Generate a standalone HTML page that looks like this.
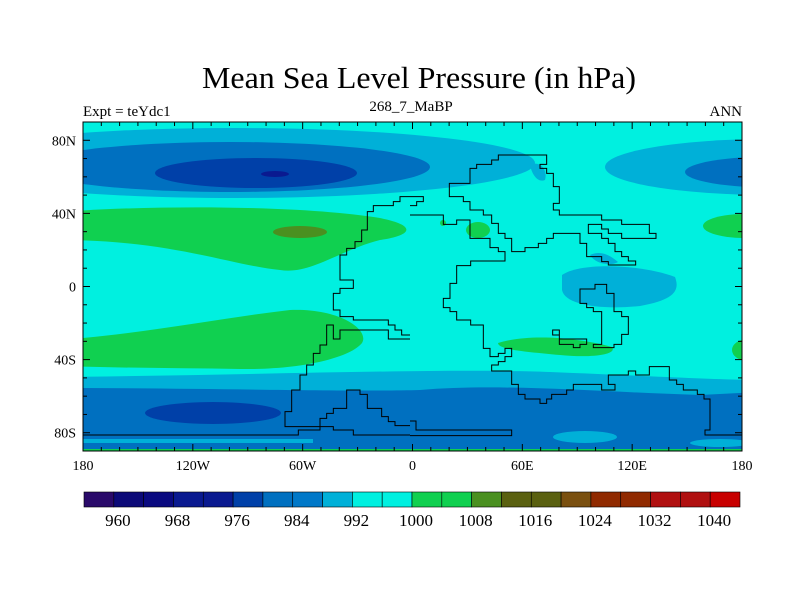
<!DOCTYPE html>
<html><head><meta charset="utf-8"><style>
body{margin:0;background:#fff}
svg{display:block;font-family:"Liberation Serif",serif}
</style></head><body>
<svg id="chart" width="800" height="600" viewBox="0 0 800 600">
<defs><clipPath id="plotclip"><rect x="83" y="122" width="659" height="329"/></clipPath></defs>
<text x="419" y="88" font-size="31" text-anchor="middle" textLength="434" lengthAdjust="spacingAndGlyphs">Mean Sea Level Pressure (in hPa)</text>
<text x="83" y="116" font-size="15">Expt = teYdc1</text>
<text x="411" y="111" font-size="15" text-anchor="middle">268_7_MaBP</text>
<text x="742" y="116" font-size="15" text-anchor="end">ANN</text>
<g clip-path="url(#plotclip)">
<rect x="83" y="122" width="659" height="329" fill="#00f0e0"/>
<ellipse cx="235" cy="163" rx="300" ry="35" fill="#00b0d8"/>
<ellipse cx="770" cy="167" rx="165" ry="28" fill="#00b0d8"/>
<ellipse cx="230" cy="167" rx="200" ry="25" fill="#0070c0"/>
<ellipse cx="780" cy="172" rx="95" ry="16" fill="#0070c0"/>
<ellipse cx="256" cy="173" rx="101" ry="15" fill="#0040a8"/>
<ellipse cx="275" cy="174" rx="14" ry="3" fill="#0a1a90"/>
<path d="M60,212 C150,205 300,205 380,218 C420,226 410,236 380,240 C340,250 310,275 280,270 C230,265 170,240 60,240 Z" fill="#10d050"/>
<ellipse cx="300" cy="232" rx="27" ry="6" fill="#4a9020"/>
<ellipse cx="745" cy="226" rx="42" ry="12" fill="#10d050"/>
<ellipse cx="443" cy="223" rx="3" ry="3" fill="#10d050"/>
<ellipse cx="478" cy="230" rx="12" ry="8" fill="#10d050"/>
<path d="M60,340 C150,333 220,318 290,310 C340,308 370,330 362,343 C350,358 300,370 240,369 C180,368 120,368 60,366 Z" fill="#10d050"/>
<path d="M498,343 C530,333 580,338 612,347 C618,355 590,358 560,355 C530,352 498,350 498,343 Z" fill="#10d050"/>
<ellipse cx="748" cy="350" rx="16" ry="11" fill="#10d050"/>
<path d="M562,275 C580,262 640,264 675,277 C680,290 675,300 640,306 C600,310 565,305 562,290 Z" fill="#00b0d8"/>
<path d="M590,255 C600,250 610,255 618,262 C612,266 596,265 590,255 Z" fill="#00b0d8"/>
<path d="M530,165 C540,160 548,170 545,180 C538,183 532,175 530,165 Z" fill="#00b0d8"/>
<path d="M60,377 C250,375 450,368 550,372 C650,376 720,380 760,380 L760,460 L60,460 Z" fill="#00b0d8"/>
<path d="M60,388 C200,388 350,392 420,390 C500,383 600,392 700,395 L760,392 L760,460 L60,460 Z" fill="#0070c0"/>
<ellipse cx="213" cy="413" rx="68" ry="11" fill="#0040a8"/>
<ellipse cx="585" cy="437" rx="32" ry="6" fill="#00b0d8"/>
<ellipse cx="720" cy="443" rx="30" ry="4" fill="#00b0d8"/>
<rect x="83" y="439" width="230" height="4" fill="#00b0d8"/>
<rect x="83" y="449" width="659" height="2" fill="#10d050"/>
</g>
<g clip-path="url(#plotclip)" fill="none" stroke="#000" stroke-width="1">
<g transform="translate(80,115) scale(0.33333)">
<path vector-effect="non-scaling-stroke" d="M990,245 L960,245 L960,260 L940,260 L940,272 L880,272 L880,290 L862,290 L862,345 L845,345 L845,380 L825,380 L825,400 L800,400 L800,420 L780,420 L780,495 L820,495 L820,520 L780,520 L780,535 L760,535 L760,585 L780,585 L780,605 L820,605 L820,615 L925,615 L925,630 L945,630 L945,645 L965,645 L965,660 L990,660"/>
<path vector-effect="non-scaling-stroke" d="M990,672 L925,672 L925,645 L780,645 L780,672 L760,672 L760,630 L740,630 L740,690 L720,690 L720,715 L700,715 L700,750 L680,750 L680,780 L660,780 L660,825 L635,825 L635,890 L615,890 L615,935 L720,935 L720,910 L740,910 L740,895 L760,895 L760,880 L800,880 L800,825 L840,825 L840,838 L862,838 L862,880 L905,880 L905,905 L925,905 L925,920 L945,920 L945,932 L990,932"/>
<path vector-effect="non-scaling-stroke" d="M10,960 L655,960 L655,945 L720,945 L720,935 L760,935 L760,945 L820,945 L820,960 L990,960"/>
</g>
<g transform="translate(410,115) scale(0.33333)">
<path vector-effect="non-scaling-stroke" d="M0,300 L100,300 L100,328 L140,328 L140,315 L180,315 L180,370 L240,370 L240,398 L265,398 L265,410 L285,410 L285,438 L182,438 L182,452 L140,452 L140,505 L120,505 L120,550 L100,550 L100,578 L120,578 L120,590 L140,590 L140,615 L182,615 L182,630 L220,630 L220,700 L240,700 L240,725 L265,725 L265,715 L285,715 L285,700 L305,700 L305,725 L285,725 L285,740 L265,740 L265,750 L245,750 L245,768 L305,768 L305,808 L325,808 L325,838 L345,838 L345,852 L390,852 L390,865 L410,865 L410,852 L425,852 L425,838 L470,838 L470,825 L490,825 L490,808 L575,808 L575,825 L615,825 L615,808 L595,808 L595,780 L655,780 L655,768 L677,768 L677,780 L718,780 L718,755 L778,755 L778,795 L800,795 L800,808 L820,808 L820,825 L862,825 L862,838 L882,838 L882,852 L900,852 L900,945 L885,945 L885,960 L995,960"/>
<path vector-effect="non-scaling-stroke" d="M118,245 L118,205 L180,205 L180,160 L200,160 L200,148 L245,148 L245,135 L265,135 L265,120 L410,120 L410,148 L390,148 L390,160 L410,160 L410,175 L430,175 L430,215 L448,215 L448,265 L430,265 L430,285 L448,285 L448,300 L575,300 L575,315 L635,315 L635,328 L718,328 L718,355 L738,355 L738,370 L635,370 L635,355 L595,355 L595,342 L575,342 L575,328 L535,328 L535,355 L575,355 L575,370 L595,370 L595,385 L615,385 L615,410 L635,410 L635,425 L655,425 L655,438 L677,438 L677,450 L595,450 L595,440 L575,440 L575,425 L530,425 L530,385 L510,385 L510,355 L430,355 L430,370 L410,370 L410,385 L385,385 L385,398 L345,398 L345,410 L305,410 L305,370 L285,370 L285,355 L265,355 L265,325 L245,325 L245,300 L220,300 L220,285 L180,285 L180,260 L160,260 L160,245 Z"/>
<path vector-effect="non-scaling-stroke" d="M0,245 L40,245 L40,260 L20,260 L20,272 L0,272"/>
<path vector-effect="non-scaling-stroke" d="M510,522 L555,522 L555,508 L590,508 L590,535 L612,535 L612,590 L635,590 L635,605 L655,605 L655,658 L635,658 L635,688 L612,688 L612,698 L550,698 L550,688 L575,688 L575,590 L550,590 L550,578 L530,578 L530,565 L510,565 Z"/>
<path vector-effect="non-scaling-stroke" d="M428,645 L448,645 L448,672 L530,672 L530,688 L510,688 L510,698 L490,698 L490,688 L448,688 L448,660 L428,660 Z"/>
<path vector-effect="non-scaling-stroke" d="M0,918 L18,918 L18,945 L305,945 L305,962 L0,962"/>
</g>
</g>
<rect x="83" y="122" width="659" height="329" fill="none" stroke="#000" stroke-width="1"/>
<g id="axes"></g>
<g id="colorbar"></g>
</svg>
<script>
const lonTicks = [-180,-120,-60,0,60,120,180];
const lonLabels = ["180","120W","60W","0","60E","120E","180"];
const latTicks = [80,40,0,-40,-80];
const latLabels = ["80N","40N","0","40S","80S"];
const levels = [960,964,968,972,976,980,984,988,992,996,1000,1004,1008,1012,1016,1020,1024,1028,1032,1036,1040];
const levelLabels = [960,968,976,984,992,1000,1008,1016,1024,1032,1040];
const boxColors = ["#2a0a6a","#0c0a78","#0a0a80","#0a1a90","#0a1a90","#0040a8","#0070c0","#0078c8","#00b0d8","#00f0e0","#00f0e0","#10d050","#10d050","#4a9020","#5a6010","#5a6010","#7a5010","#902a00","#902a00","#b01010","#b01010","#c80000"];

const NS="http://www.w3.org/2000/svg";
const X0=83,X1=742,Y0=122,Y1=451;
const xLon = lon => X0 + (lon+180)/360*(X1-X0);
const yLat = lat => Y0 + (90-lat)/180*(Y1-Y0);
function mk(tag, attrs, parent){const e=document.createElementNS(NS,tag);for(const k in attrs)e.setAttribute(k,attrs[k]);parent.appendChild(e);return e;}
const ax=document.getElementById('axes');
for(let lon=-180;lon<=180;lon+=10){
  const major = lon%60===0, len = major?7:4;
  const l1=mk('line',{x1:xLon(lon),x2:xLon(lon),y1:Y1,y2:Y1-len,stroke:'#000'},ax);
  
  
  const l2=mk('line',{x1:xLon(lon),x2:xLon(lon),y1:Y0,y2:Y0+len,stroke:'#000'},ax);
  
  
}
for(let lat=-90;lat<=90;lat+=10){
  const major = lat%40===0, len = major?7:4;
  const l1=mk('line',{x1:X0,x2:X0+len,y1:yLat(lat),y2:yLat(lat),stroke:'#000'},ax);
  
  
  const l2=mk('line',{x1:X1,x2:X1-len,y1:yLat(lat),y2:yLat(lat),stroke:'#000'},ax);
  
  
}
lonTicks.forEach((lon,i)=>{
  const t=mk('text',{x:xLon(lon),y:470,'font-size':14,'text-anchor':'middle'},ax);
  t.textContent=lonLabels[i];
  
  
});
latTicks.forEach((lat,i)=>{
  const t=mk('text',{x:76,y:yLat(lat)+5,'font-size':14,'text-anchor':'end'},ax);
  t.textContent=latLabels[i];
  
  
});
const cb=document.getElementById('colorbar');
const CB0=84,CB1=740,CBT=492,CBH=15;
const nBox=boxColors.length, bw=(CB1-CB0)/nBox;
const xLevel = v => CB0 + ((v-levels[0])/(levels[1]-levels[0])+1)*bw;
boxColors.forEach((c,i)=>{
  const r=mk('rect',{x:CB0+i*bw,y:CBT,width:bw,height:CBH,fill:c,stroke:'#000','stroke-width':0.6},cb);
  
  
});
levelLabels.forEach(v=>{
  const t=mk('text',{x:xLevel(v)+4,y:526,'font-size':17,'text-anchor':'middle'},cb);
  t.textContent=v;
  
  
});
</script>
</body></html>
